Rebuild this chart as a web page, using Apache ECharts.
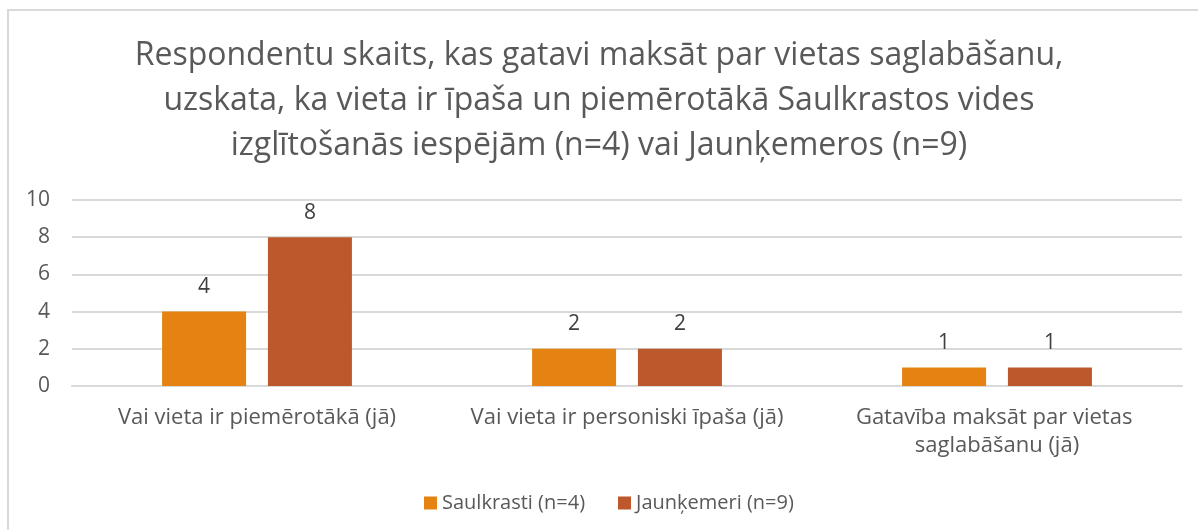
<!DOCTYPE html>
<html>
<head>
<meta charset="utf-8">
<script src="https://cdn.jsdelivr.net/npm/echarts@6/dist/echarts.min.js"></script>
<style>
  html, body { margin: 0; padding: 0; background: #fff; }
  #main { width: 1198px; height: 530px; }
</style>
</head>
<body>
<div id="main"></div>
<script>
// respondentu skaits
var chart = echarts.init(document.getElementById("main"));

var titleLines = [
    'Respondentu skaits, kas gatavi maksāt par vietas saglabāšanu,',
    'uzskata, ka vieta ir īpaša un piemērotākā Saulkrastos vides',
    'izglītošanās iespējām (n=4) vai Jaunķemeros (n=9)'
];
var categories = ['Vai vieta ir piemērotākā (jā)', 'Vai vieta ir personiski īpaša (jā)', 'Gatavība maksāt par vietas saglabāšanu (jā)'];
var seriesNames = ['Saulkrasti (n=4)', 'Jaunķemeri (n=9)'];
var saulkrasti = [4, 2, 1];
var jaunkemeri = [8, 2, 1];
var yTicks = [0, 2, 4, 6, 8, 10];

var textColor = '#595959';
var font = '"Open Sans", "Noto Sans", sans-serif';

function makeSeries(name, data, color) {
    return {
        name: name,
        type: 'bar',
        barWidth: 84,
        barGap: '26%',
        itemStyle: { color: color },
        label: {
            show: true,
            position: 'top',
            distance: 14,
            color: '#404040',
            fontSize: 21,
            fontFamily: font
        },
        data: data
    };
}

var option = {
    backgroundColor: '#fff',
    animation: false,
    textStyle: { fontFamily: font },
    title: {
        text: titleLines.join('\n'),
        left: 'center',
        top: 28,
        textStyle: {
            color: textColor,
            fontSize: 32,
            fontWeight: 'normal',
            lineHeight: 45,
            fontFamily: font
        }
    },
    color: ['#E48312', '#BD582C'],
    legend: {
        data: seriesNames,
        top: 488,
        left: 419,
        itemWidth: 13,
        itemHeight: 13,
        itemGap: 33,
        icon: 'rect',
        textStyle: { color: textColor, fontSize: 20, fontFamily: font }
    },
    grid: {
        left: 72,
        right: 16,
        top: 200,
        bottom: 144
    },
    xAxis: {
        type: 'category',
        data: categories,
        axisLine: { show: true, lineStyle: { color: '#d9d9d9', width: 2 } },
        axisTick: { show: false },
        axisLabel: {
            interval: 0,
            color: textColor,
            fontSize: 22,
            margin: 18,
            lineHeight: 28,
            width: 362,
            overflow: 'break',
            fontFamily: font
        }
    },
    yAxis: {
        type: 'value',
        min: yTicks[0],
        max: yTicks[yTicks.length - 1],
        interval: 2,
        axisLine: { show: false },
        axisTick: { show: false },
        axisLabel: { color: textColor, fontSize: 21, margin: 22, fontFamily: font },
        splitLine: { lineStyle: { color: '#d9d9d9', width: 2 } }
    },
    graphic: [{
        type: 'rect',
        shape: { x: 8, y: 10, width: 1200, height: 530 },
        style: { fill: 'none', stroke: '#d9d9d9', lineWidth: 2 }
    }],
    series: [
        makeSeries(seriesNames[0], saulkrasti, '#E48312'),
        makeSeries(seriesNames[1], jaunkemeri, '#BD582C')
    ]
};

chart.setOption(option);
window.addEventListener("resize", function () {
    chart.resize();
});
</script>
</body>
</html>
